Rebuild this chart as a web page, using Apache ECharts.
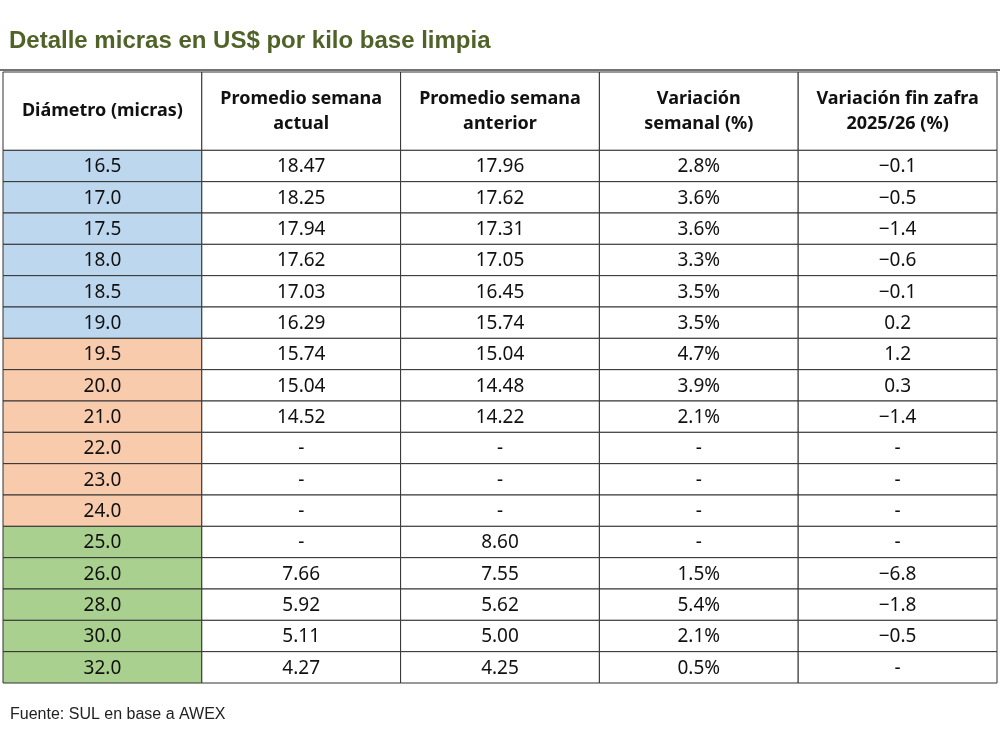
<!DOCTYPE html>
<html><head><meta charset="utf-8">
<script src="https://cdn.jsdelivr.net/npm/echarts@6/dist/echarts.min.js"></script>
<style>html,body{margin:0;padding:0;background:#fff}#c{width:1000px;height:734px}</style>
</head><body><div id="c"></div>
<script>
const headers = ['Diámetro (micras)', 'Promedio semana\nactual', 'Promedio semana\nanterior', 'Variación\nsemanal (%)', 'Variación fin zafra\n2025/26 (%)'];
const diametro = ['16.5','17.0','17.5','18.0','18.5','19.0','19.5','20.0','21.0','22.0','23.0','24.0','25.0','26.0','28.0','30.0','32.0'];
const actual = ['18.47','18.25','17.94','17.62','17.03','16.29','15.74','15.04','14.52','-','-','-','-','7.66','5.92','5.11','4.27'];
const anterior = ['17.96','17.62','17.31','17.05','16.45','15.74','15.04','14.48','14.22','-','-','-','8.60','7.55','5.62','5.00','4.25'];
const varSemanal = ['2.8%','3.6%','3.6%','3.3%','3.5%','3.5%','4.7%','3.9%','2.1%','-','-','-','-','1.5%','5.4%','2.1%','0.5%'];
const varFinZafra = ['-0.1','-0.5','-1.4','-0.6','-0.1','0.2','1.2','0.3','-1.4','-','-','-','-','-6.8','-1.8','-0.5','-'];
const groups = ['b','b','b','b','b','b','o','o','o','o','o','o','g','g','g','g','g'];
const groupColors = {b:'#bdd7ee', o:'#f8cbad', g:'#a9d08e'};
const HEAD = 2.5;
const cols = [diametro, actual, anterior, varSemanal, varFinZafra];
const data = [];
headers.forEach((h,j)=>data.push([j, 0, HEAD, h, 1, '#fff']));
for (let i=0;i<diametro.length;i++) for (let j=0;j<5;j++)
  data.push([j, HEAD+i, HEAD+i+1, cols[j][i].replace(/^-(?=\d)/,'−'), 0, j===0?groupColors[groups[i]]:'#fff']);
const chart = echarts.init(document.getElementById('c'));
chart.setOption({
  animation:false,
  title:{text:'Detalle micras en US$ por kilo base limpia', left:4, top:24,
    textStyle:{color:'#4f6228', fontSize:24, fontWeight:'bold', fontFamily:'Liberation Sans', letterSpacing:3.8}},
  graphic:[
    {type:'line', shape:{x1:0,y1:70,x2:1000,y2:70}, style:{stroke:'#444', lineWidth:1.5}},
    {type:'text', left:10, top:707, style:{text:'Fuente: SUL en base a AWEX', fontSize:16, fill:'#222', fontFamily:'Liberation Sans'}}
  ],
  grid:{left:3, right:3, top:72, height:611},
  xAxis:{type:'category', data:[0,1,2,3,4], show:false},
  yAxis:{type:'value', min:0, max:HEAD+diametro.length, inverse:true, show:false},
  series:[{type:'custom', data, renderItem:(params, api)=>{
    const j=api.value(0);
    const p1=api.coord([j, api.value(1)]);
    const p2=api.coord([j, api.value(2)]);
    const w=api.size([1,0])[0];
    const d=data[params.dataIndex];
    const x=p1[0]-w/2, y=p1[1], h=p2[1]-p1[1];
    return {type:'group', children:[
      {type:'rect', shape:{x, y, width:w, height:h}, style:{fill:d[5], stroke:'#333', lineWidth:1}},
      {type:'text', style:{text:d[3], x:x+w/2, y:y+h/2+(d[4]?0:1), align:'center', verticalAlign:'middle',
        fontSize:d[4]?18:19, fontWeight:d[4]?'bold':'normal', lineHeight:25, fill:'#111', fontFamily:'Noto Sans'}}
    ]};
  }}]
});
</script></body></html>
